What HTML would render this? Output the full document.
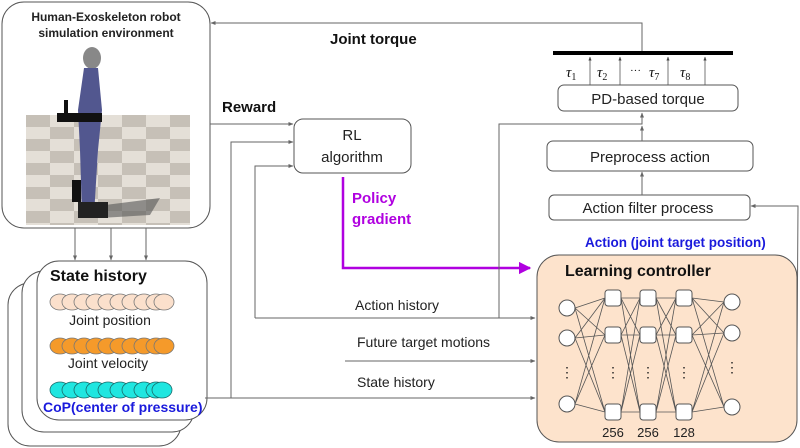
<!DOCTYPE html>
<html><head><meta charset="utf-8"><style>
html,body{margin:0;padding:0;background:#fff;}
svg{display:block;font-family:"Liberation Sans",Arial,sans-serif;}
</style></head><body>
<svg width="800" height="448" viewBox="0 0 800 448" xmlns="http://www.w3.org/2000/svg">
<defs>
<marker id="a" viewBox="0 0 10 10" refX="9" refY="5" markerWidth="5" markerHeight="5" orient="auto"><path d="M0,1 L10,5 L0,9 z" fill="#666"/></marker>
<marker id="p" viewBox="0 0 10 10" refX="9" refY="5" markerWidth="5" markerHeight="5" orient="auto"><path d="M0,0 L10,5 L0,10 z" fill="#b000e0"/></marker>
<marker id="s" viewBox="0 0 10 10" refX="9" refY="5" markerWidth="4" markerHeight="4" orient="auto"><path d="M0,1 L10,5 L0,9 z" fill="#444"/></marker>
<pattern id="chk" x="26" y="115" width="48" height="24" patternUnits="userSpaceOnUse">
<rect width="48" height="24" fill="#e4dfd7"/><rect width="24" height="12" fill="#c6c0b7"/><rect x="24" y="12" width="24" height="12" fill="#c6c0b7"/>
</pattern>
</defs>

<!-- Simulation env -->
<rect x="2" y="2" width="208" height="226" rx="22" fill="#fff" stroke="#555" stroke-width="1"/>
<text x="106" y="21" font-size="12" font-weight="bold" text-anchor="middle" fill="#222">Human-Exoskeleton robot</text>
<text x="106" y="37" font-size="12" font-weight="bold" text-anchor="middle" fill="#222">simulation environment</text>
<rect x="26" y="115" width="164" height="110" fill="url(#chk)"/>
<path d="M105,205 L160,198 L150,215 L100,218 z" fill="#555" opacity="0.6"/>
<ellipse cx="92" cy="58" rx="9" ry="11" fill="#888"/>
<path d="M84,68 L98,68 L102,110 L98,150 L94,215 L82,215 L80,150 L78,110 z" fill="#52578f"/>
<rect x="57" y="113" width="45" height="9" fill="#111"/>
<rect x="64" y="100" width="4" height="15" fill="#111"/>
<rect x="72" y="180" width="9" height="22" fill="#111"/>
<rect x="78" y="202" width="30" height="16" fill="#222"/>

<!-- arrows down to state history -->
<line x1="75" y1="228" x2="75" y2="260" stroke="#666" marker-end="url(#a)"/>
<line x1="111" y1="228" x2="111" y2="260" stroke="#666" marker-end="url(#a)"/>
<line x1="146" y1="228" x2="146" y2="260" stroke="#666" marker-end="url(#a)"/>

<!-- State history stack -->
<rect x="8" y="283" width="173" height="163" rx="22" fill="#fff" stroke="#555"/>
<rect x="22" y="271" width="172" height="161" rx="22" fill="#fff" stroke="#555"/>
<rect x="37" y="261" width="170" height="159" rx="22" fill="#fff" stroke="#555"/>
<text x="50" y="281" font-size="16" font-weight="bold" fill="#111">State history</text>
<g stroke="#777" stroke-width="0.8">
<g fill="#fbe0cc">
<ellipse cx="60" cy="302" rx="10" ry="8"/><ellipse cx="72" cy="302" rx="10" ry="8"/><ellipse cx="84" cy="302" rx="10" ry="8"/><ellipse cx="96" cy="302" rx="10" ry="8"/><ellipse cx="108" cy="302" rx="10" ry="8"/><ellipse cx="120" cy="302" rx="10" ry="8"/><ellipse cx="132" cy="302" rx="10" ry="8"/><ellipse cx="144" cy="302" rx="10" ry="8"/><ellipse cx="156" cy="302" rx="10" ry="8"/><ellipse cx="164" cy="302" rx="10" ry="8"/>
</g>
<g fill="#f59a2a">
<ellipse cx="60" cy="346" rx="10" ry="8"/><ellipse cx="72" cy="346" rx="10" ry="8"/><ellipse cx="84" cy="346" rx="10" ry="8"/><ellipse cx="96" cy="346" rx="10" ry="8"/><ellipse cx="108" cy="346" rx="10" ry="8"/><ellipse cx="120" cy="346" rx="10" ry="8"/><ellipse cx="132" cy="346" rx="10" ry="8"/><ellipse cx="144" cy="346" rx="10" ry="8"/><ellipse cx="156" cy="346" rx="10" ry="8"/><ellipse cx="164" cy="346" rx="10" ry="8"/>
</g>
<g fill="#1fe6e0" stroke="#1a6a6a">
<ellipse cx="60" cy="390" rx="10" ry="8"/><ellipse cx="72" cy="390" rx="10" ry="8"/><ellipse cx="84" cy="390" rx="10" ry="8"/><ellipse cx="96" cy="390" rx="10" ry="8"/><ellipse cx="108" cy="390" rx="10" ry="8"/><ellipse cx="120" cy="390" rx="10" ry="8"/><ellipse cx="132" cy="390" rx="10" ry="8"/><ellipse cx="144" cy="390" rx="10" ry="8"/><ellipse cx="156" cy="390" rx="10" ry="8"/><ellipse cx="162" cy="390" rx="10" ry="8"/>
</g>
</g>
<text x="110" y="325" font-size="14" text-anchor="middle" fill="#222">Joint position</text>
<text x="108" y="368" font-size="14" text-anchor="middle" fill="#222">Joint velocity</text>
<text x="43" y="412" font-size="14" font-weight="bold" fill="#1a1adc">CoP(center of pressure)</text>

<!-- RL algorithm -->
<rect x="294" y="119" width="117" height="54" rx="9" fill="#fff" stroke="#555"/>
<text x="352" y="140" font-size="15" text-anchor="middle" fill="#222">RL</text>
<text x="352" y="162" font-size="15" text-anchor="middle" fill="#222">algorithm</text>
<text x="222" y="112" font-size="15" font-weight="bold" fill="#111">Reward</text>
<line x1="210" y1="124" x2="293" y2="124" stroke="#666" marker-end="url(#a)"/>
<polyline points="231,398 231,142 293,142" fill="none" stroke="#666" marker-end="url(#a)"/>
<polyline points="255,318 255,166 293,166" fill="none" stroke="#666" marker-end="url(#a)"/>

<!-- Policy gradient -->
<polyline points="343,177 343,268 530,268" fill="none" stroke="#b000e0" stroke-width="2.5" marker-end="url(#p)"/>
<text x="352" y="203" font-size="15" font-weight="bold" fill="#b000e0">Policy</text>
<text x="352" y="224" font-size="15" font-weight="bold" fill="#b000e0">gradient</text>

<!-- input lines -->
<line x1="255" y1="318" x2="535" y2="318" stroke="#666" marker-end="url(#a)"/>
<text x="355" y="310" font-size="14" fill="#222">Action history</text>
<line x1="345" y1="361" x2="535" y2="361" stroke="#666" marker-end="url(#a)"/>
<text x="357" y="347" font-size="14" fill="#222">Future target motions</text>
<line x1="205" y1="398" x2="535" y2="398" stroke="#666" marker-end="url(#a)"/>
<text x="357" y="387" font-size="14" fill="#222">State history</text>
<polyline points="499,318 499,124 642,124 642,113" fill="none" stroke="#666" marker-end="url(#a)"/>

<!-- Joint torque -->
<polyline points="642,52 642,23 211,23" fill="none" stroke="#666" marker-end="url(#a)"/>
<text x="330" y="44" font-size="15" font-weight="bold" fill="#111">Joint torque</text>
<rect x="553" y="51" width="180" height="4" fill="#000"/>
<g stroke="#777" marker-end="url(#s)">
<line x1="590" y1="85" x2="590" y2="57"/><line x1="620" y1="85" x2="620" y2="57"/><line x1="668" y1="85" x2="668" y2="57"/><line x1="705" y1="85" x2="705" y2="57"/>
</g>
<g font-family="'Liberation Serif',serif" font-style="italic" font-size="15" fill="#111">
<text x="566" y="77">τ<tspan font-size="10" font-style="normal" dy="3">1</tspan></text>
<text x="597" y="77">τ<tspan font-size="10" font-style="normal" dy="3">2</tspan></text>
<text x="630" y="74" font-style="normal" font-size="11">···</text>
<text x="649" y="77">τ<tspan font-size="10" font-style="normal" dy="3">7</tspan></text>
<text x="680" y="77">τ<tspan font-size="10" font-style="normal" dy="3">8</tspan></text>
</g>
<rect x="558" y="85" width="180" height="26" rx="6" fill="#fff" stroke="#555"/>
<text x="648" y="104" font-size="15" text-anchor="middle" fill="#222">PD-based torque</text>
<rect x="547" y="141" width="206" height="30" rx="6" fill="#fff" stroke="#555"/>
<text x="650" y="162" font-size="15" text-anchor="middle" fill="#222">Preprocess action</text>
<line x1="642" y1="141" x2="642" y2="126" stroke="#666" marker-end="url(#a)"/>
<rect x="549" y="195" width="201" height="25" rx="5" fill="#fff" stroke="#555"/>
<text x="648" y="213" font-size="15" text-anchor="middle" fill="#222">Action filter process</text>
<line x1="642" y1="195" x2="642" y2="172" stroke="#666" marker-end="url(#a)"/>
<polyline points="797,352 798,206 751,206" fill="none" stroke="#666" marker-end="url(#a)"/>
<text x="585" y="247" font-size="13.5" font-weight="bold" fill="#1a1adc">Action (joint target position)</text>

<!-- Learning controller -->
<rect x="537" y="255" width="260" height="187" rx="22" fill="#fde3cc" stroke="#555"/>
<text x="565" y="276" font-size="16" font-weight="bold" fill="#111">Learning controller</text>
<g stroke="#555" stroke-width="0.8" fill="none">
<path d="M575,308 L605,298 M575,308 L605,335 M575,308 L605,412 M575,338 L605,298 M575,338 L605,335 M575,338 L605,412 M575,404 L605,298 M575,404 L605,335 M575,404 L605,412"/>
<path d="M621,298 L640,298 M621,298 L640,335 M621,298 L640,412 M621,335 L640,298 M621,335 L640,335 M621,335 L640,412 M621,412 L640,298 M621,412 L640,335 M621,412 L640,412"/>
<path d="M656,298 L676,298 M656,298 L676,335 M656,298 L676,412 M656,335 L676,298 M656,335 L676,335 M656,335 L676,412 M656,412 L676,298 M656,412 L676,335 M656,412 L676,412"/>
<path d="M692,298 L724,302 M692,298 L724,333 M692,298 L724,407 M692,335 L724,302 M692,335 L724,333 M692,335 L724,407 M692,412 L724,302 M692,412 L724,333 M692,412 L724,407"/>
</g>
<g fill="#fff" stroke="#555">
<circle cx="567" cy="308" r="8"/><circle cx="567" cy="338" r="8"/><circle cx="567" cy="404" r="8"/>
<circle cx="732" cy="302" r="8"/><circle cx="732" cy="333" r="8"/><circle cx="732" cy="407" r="8"/>
<rect x="605" y="290" width="16" height="16" rx="3"/><rect x="605" y="327" width="16" height="16" rx="3"/><rect x="605" y="404" width="16" height="16" rx="3"/>
<rect x="640" y="290" width="16" height="16" rx="3"/><rect x="640" y="327" width="16" height="16" rx="3"/><rect x="640" y="404" width="16" height="16" rx="3"/>
<rect x="676" y="290" width="16" height="16" rx="3"/><rect x="676" y="327" width="16" height="16" rx="3"/><rect x="676" y="404" width="16" height="16" rx="3"/>
</g>
<g font-size="14" fill="#222" text-anchor="middle">
<text x="567" y="377">⋮</text><text x="613" y="377">⋮</text><text x="648" y="377">⋮</text><text x="684" y="377">⋮</text><text x="732" y="372">⋮</text>
</g>
<g font-size="13" fill="#222" text-anchor="middle">
<text x="613" y="437">256</text><text x="648" y="437">256</text><text x="684" y="437">128</text>
</g>
</svg>
</body></html>
